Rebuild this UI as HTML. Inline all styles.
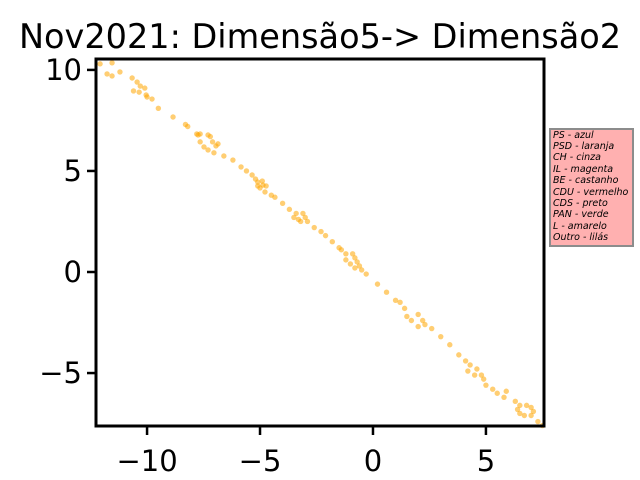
<!DOCTYPE html>
<html><head><meta charset="utf-8"><style>
body{margin:0;background:#fff;}
svg{display:block;font-family:"DejaVu Sans","Liberation Sans",sans-serif;}
</style></head><body>
<svg id="chart" width="640" height="480">
<text x="320" y="48" text-anchor="middle" font-size="33.5" fill="#000">Nov2021: Dimensão5-&gt; Dimensão2</text>
<g id="points"></g>
<g id="axes"></g>
<g>
<rect x="550" y="129" width="83" height="117" fill="#ffb0b0" stroke="#8c8c8c" stroke-width="2"/>
<g font-size="9.5" font-style="italic" fill="#000">
<text x="553" y="138">PS - azul</text>
<text x="553" y="149">PSD - laranja</text>
<text x="553" y="160">CH - cinza</text>
<text x="553" y="172">IL - magenta</text>
<text x="553" y="183">BE - castanho</text>
<text x="553" y="195">CDU - vermelho</text>
<text x="553" y="206">CDS - preto</text>
<text x="553" y="217">PAN - verde</text>
<text x="553" y="229">L - amarelo</text>
<text x="553" y="240">Outro - lilás</text>
</g></g>
</svg>
<script>
const xs=[-12.08,-11.77,-11.55,-11.55,-11.2,-10.66,-10.44,-10.3,-10.1,-10.6,-10.35,-10.04,-10,-9.78,-9.5,-8.85,-8.3,-8.2,-7.8,-7.74,-7.65,-7.3,-7.2,-7.1,-6.95,-6.86,-7.65,-7.48,-7.3,-7.04,-6.6,-6.2,-5.84,-5.6,-5.35,-5.2,-5.1,-4.9,-4.87,-4.73,-5.1,-5,-4.78,-4.5,-4.34,-4.0,-3.7,-3.4,-3.1,-3.0,-3.3,-3.5,-3.2,-2.9,-2.6,-2.3,-2.1,-1.8,-1.5,-1.4,-1.2,-0.9,-0.8,-0.7,-0.6,-1.2,-1.0,-0.8,-0.5,-0.3,0.2,0.6,1.0,1.2,1.4,1.5,1.7,2.0,2.2,2.3,2.6,2.0,3.0,3.4,3.8,4.1,4.3,4.6,4.8,4.9,4.5,4.2,5.0,5.3,5.5,5.8,5.9,6.3,6.5,6.8,7.0,7.1,7.0,6.7,6.5,6.4,7.3,7.5];
const ys=[10.3,9.8,10.35,9.7,9.9,9.6,9.4,9.2,9.1,8.96,8.9,8.76,8.66,8.56,8.1,7.67,7.3,7.2,6.83,6.78,6.83,6.78,6.7,6.44,6.24,6.34,6.44,6.19,6.04,5.9,5.74,5.54,5.2,5.0,4.8,4.6,4.45,4.5,4.3,4.26,4.26,4.16,3.96,3.8,3.7,3.4,3.1,2.9,2.9,2.7,2.6,2.7,2.5,2.5,2.2,2.0,1.8,1.5,1.2,1.1,0.9,0.9,0.7,0.5,0.3,0.6,0.4,0.2,0.1,-0.1,-0.6,-1.0,-1.4,-1.5,-1.8,-2.2,-2.4,-2.1,-2.4,-2.6,-2.8,-2.7,-3.2,-3.6,-4.1,-4.4,-4.6,-4.8,-5.1,-5.3,-5.1,-4.9,-5.6,-5.8,-6.0,-6.2,-5.9,-6.4,-6.6,-6.6,-6.7,-6.9,-7.1,-7.1,-7.0,-6.8,-7.4,-7.6];
const xTicks=[-10,-5,0,5];
const yTicks=[10,5,0,-5];
const L=96,R=544,T=59,B=426,xmin=-12.26,xmax=7.57,ymin=-7.62,ymax=10.54;
const sx=v=>L+(v-xmin)/(xmax-xmin)*(R-L);
const sy=v=>B-(v-ymin)/(ymax-ymin)*(B-T);
const NS='http://www.w3.org/2000/svg';
const pts=document.getElementById('points'),ax=document.getElementById('axes');
function mk(t,a,p){const e=document.createElementNS(NS,t);for(const k in a)e.setAttribute(k,a[k]);p.appendChild(e);return e;}
xs.forEach((x,i)=>{const c=mk('circle',{cx:sx(x),cy:sy(ys[i]),r:2.7,fill:'#ffa500','fill-opacity':0.55},pts);

});
const fr=mk('rect',{x:L,y:T,width:R-L,height:B-T,fill:'none',stroke:'#000','stroke-width':3},ax);


xTicks.forEach(v=>{const x=sx(v);mk('line',{x1:x,x2:x,y1:B,y2:B+9,stroke:'#000','stroke-width':2.5},ax);
const t=mk('text',{x:x,y:B+45,'text-anchor':'middle','font-size':29},ax);t.textContent=v<0?'\u2212'+(-v):String(v);

});
yTicks.forEach(v=>{const y=sy(v);mk('line',{x1:L-9,x2:L,y1:y,y2:y,stroke:'#000','stroke-width':2.5},ax);
const t=mk('text',{x:L-14,y:y+10,'text-anchor':'end','font-size':29},ax);t.textContent=v<0?'\u2212'+(-v):String(v);

});
</script>
</body></html>
